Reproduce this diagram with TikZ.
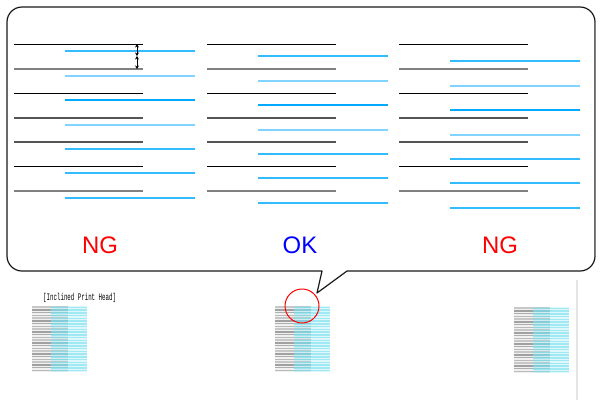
\documentclass[tikz,border=0pt]{standalone}
\usepackage{fontspec}
\setmainfont{Liberation Sans}
\newfontfamily\labelmono{Liberation Mono}
\usetikzlibrary{arrows.meta}
\definecolor{bA}{RGB}{51,187,255}
\definecolor{bB}{RGB}{128,212,255}
\definecolor{bC}{RGB}{0,170,255}
\definecolor{gA}{RGB}{128,128,128}
\definecolor{gB}{RGB}{85,85,85}
\definecolor{ngred}{RGB}{255,0,0}
\definecolor{okblue}{RGB}{0,0,255}
\definecolor{cyprint}{RGB}{120,225,240}
\tikzset{
  verdict/.style={font=\fontsize{24}{24}\selectfont, inner sep=0pt},
  pix/.style={x=1bp,y=-1bp},
  kblack/.style={line width=1.1bp, draw=black, yshift=-0.5bp},
  kgray/.style={line width=2bp, draw=gA},
  kdark/.style={line width=2bp, draw=gB},
  bnorm/.style={line width=1.6bp, draw=bA},
  blight/.style={line width=2bp, draw=bB},
  bdeep/.style={line width=1.6bp, draw=bC}
}
\newcommand{\drawpanel}[2]{%
  \foreach \yy/\ks/\bs in {44/kblack/bnorm, 69/kgray/blight, 93/kblack/bdeep, 118/kdark/blight, 142/kdark/bnorm, 166/kblack/bnorm, 191/kgray/bnorm}{
    \draw[\ks] (#1+14,\yy) -- (#1+143,\yy);
    \draw[\bs] (#1+65,\yy+#2) -- (#1+195,\yy+#2);
  }%
}
\newcommand{\drawprint}[2]{%
  \fill[black!6] (#1,#2) rectangle (#1+36,#2+66);
  \foreach \i in {0,...,23}{
    \pgfmathtruncatemacro\g{22+mod(\i*7,4)*5}
    \draw[line width=1.5bp, draw=black!\g] (#1,#2+1+2.75*\i) -- (#1+36,#2+1+2.75*\i);
  }
  \fill[cyprint, opacity=0.25] (#1+19,#2) rectangle (#1+55,#2+66);
  \foreach \i in {0,...,23}{
    \draw[line width=1.5bp, draw=cyprint, opacity=0.6] (#1+19,#2+1.4+2.75*\i) -- (#1+55,#2+1.4+2.75*\i);
  }
}
\begin{document}
\begin{tikzpicture}[pix]
\useasboundingbox (0,0) rectangle (600,400);
\fill[white] (0,0) rectangle (600,400);
% callout box
\draw[line width=1.2bp, draw=black!90, line join=round]
  (22,7) -- (580,7) arc[start angle=-90, end angle=0, radius=15]
  -- (595,256) arc[start angle=0, end angle=90, radius=15]
  -- (347,271) -- (317,293) -- (322,271) -- (22,271)
  arc[start angle=90, end angle=180, radius=15]
  -- (7,22) arc[start angle=180, end angle=270, radius=15] -- cycle;
\draw[line width=1.2bp, draw=gA] (595.8,22) -- (595.8,256);
% panels
\drawpanel{0}{7}
\drawpanel{193}{12}
\drawpanel{385}{17}
% gap arrows
\coordinate (a1) at (137,44);
\coordinate (a2) at (137,56);
\coordinate (a3) at (137,69);
\draw[line width=0.8bp, {Stealth[length=3.5pt,width=4pt]}-{Stealth[length=3.5pt,width=4pt]}] (a1) -- (a2);
\draw[line width=0.8bp, {Stealth[length=3.5pt,width=4pt]}-{Stealth[length=3.5pt,width=4pt]}] (a2) -- (a3);
% verdicts
\node[verdict, text=ngred] (ng1) at (100,245) {NG};
\node[verdict, text=okblue] (ok) at (300,245) {OK};
\node[verdict, text=ngred] (ng2) at (500,245) {NG};
% prints
\node[inner sep=0pt, anchor=west] (lbl) at (43,298) {\scalebox{0.58}[1]{\fontsize{10}{10}\labelmono [Inclined Print Head]}};
\drawprint{32}{306}
\drawprint{275}{306}
\drawprint{514}{307}
% marker circle
\node[draw=red, line width=1bp, circle, minimum size=34bp, inner sep=0pt] (mark) at (302,306) {};
% faint edge line
\draw[line width=1.5bp, draw=black!10] (577,280) -- (577,400);
\end{tikzpicture}
\end{document}
